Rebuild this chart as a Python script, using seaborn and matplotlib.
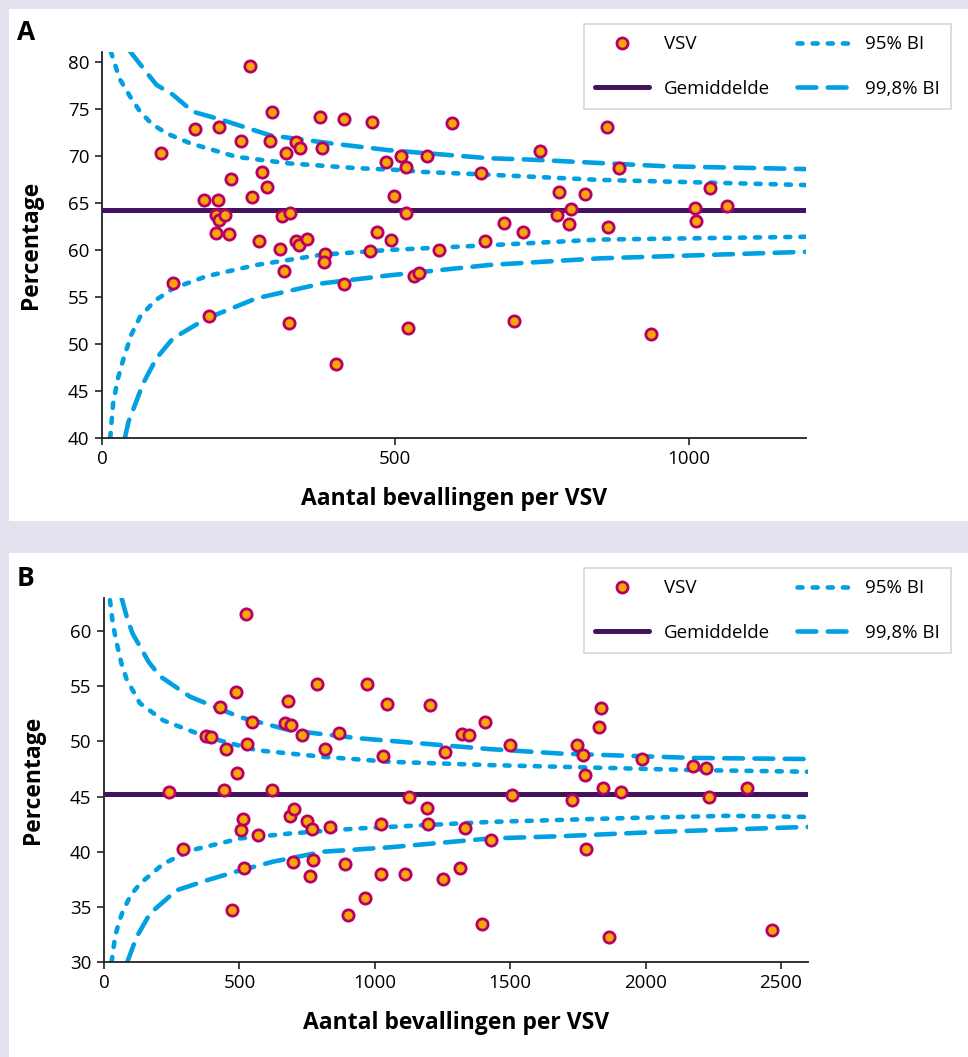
import matplotlib
matplotlib.use("Agg")
import matplotlib.pyplot as plt
from matplotlib.patches import Rectangle
from matplotlib.lines import Line2D
import seaborn as sns

# Panel A: aantal bevallingen en percentage per VSV
a_births = [100, 121, 158, 174, 183, 197, 200, 194, 200, 209, 195, 217, 220, 237, 253,
            256, 268, 273, 282, 286, 289, 303, 307, 314, 310, 318, 321, 331, 338, 330,
            335, 350, 371, 375, 380, 379, 399, 412, 412, 461, 457, 468, 484, 493, 497,
            510, 518, 518, 522, 532, 541, 554, 574, 596, 646, 653, 686, 702, 718, 746,
            775, 779, 796, 800, 824, 861, 863, 881, 935, 1011, 1012, 1037, 1065]
a_pct = [70.35, 56.5, 72.9, 65.3, 52.95, 65.3, 73.1, 63.7, 63.2, 63.7, 61.8, 61.7, 67.5, 71.6, 79.6,
         65.6, 60.9, 68.3, 66.7, 71.6, 74.7, 60.1, 63.65, 70.3, 57.8, 52.2, 63.9, 71.45, 70.85, 61.0,
         60.5, 61.2, 74.1, 70.8, 59.6, 58.75, 47.9, 73.9, 56.4, 73.65, 59.9, 61.9, 69.3, 61.1, 65.7,
         70.0, 68.8, 63.97, 51.7, 57.2, 57.5, 70.0, 59.97, 73.5, 68.2, 60.9, 62.9, 52.4, 61.9, 70.5,
         63.7, 66.2, 62.8, 64.4, 66.0, 73.05, 62.4, 68.75, 51.1, 64.5, 63.1, 66.6, 64.7]
a_mean = 64.3

a_ci95_upper = ([15, 30, 48, 65, 85, 110, 150, 229, 320, 433, 507, 546, 660, 847, 1200],
                [81.1, 78.2, 76.3, 74.7, 73.4, 72.4, 71.35, 69.9, 69.2, 68.7, 68.5, 68.3, 68.0, 67.45, 66.9])
a_ci95_lower = ([14, 19, 27, 36, 50, 65, 90, 121, 178, 263, 376, 490, 660, 847, 1200],
                [40.0, 43.7, 46.3, 48.3, 51.0, 52.9, 54.6, 55.9, 57.2, 58.4, 59.5, 60.0, 60.5, 61.1, 61.4])
a_ci998_upper = ([48, 82, 93, 121, 155, 206, 286, 388, 490, 660, 733, 960, 1200],
                 [81.1, 78.4, 77.55, 76.5, 74.7, 73.8, 72.2, 71.35, 70.6, 69.75, 69.6, 68.9, 68.6])
a_ci998_lower = ([39, 45, 53, 70, 93, 121, 178, 263, 376, 490, 660, 847, 1200],
                 [40.0, 41.7, 43.0, 45.8, 48.5, 50.6, 52.7, 54.85, 56.45, 57.3, 58.4, 59.1, 59.8])

# Panel B
b_births = [240, 291, 377, 395, 428, 444, 451, 472, 487, 490, 505, 513, 516, 526, 527,
            545, 569, 620, 668, 681, 689, 687, 700, 699, 731, 749, 767, 762, 772, 787,
            816, 835, 867, 890, 902, 965, 971, 1023, 1023, 1030, 1044, 1111, 1127, 1192, 1198,
            1203, 1251, 1259, 1315, 1322, 1349, 1334, 1395, 1408, 1430, 1499, 1508, 1727, 1747, 1768,
            1778, 1781, 1829, 1837, 1842, 1864, 1911, 1987, 2176, 2222, 2233, 2375, 2468]
b_pct = [45.4, 40.2, 50.5, 50.4, 53.1, 45.6, 49.3, 34.7, 54.5, 47.1, 42.0, 43.0, 38.5, 61.55, 49.8,
         51.8, 41.5, 45.6, 51.7, 53.7, 51.5, 43.2, 43.9, 39.05, 50.6, 42.75, 42.1, 37.8, 39.25, 55.2,
         49.3, 42.2, 50.75, 38.85, 34.3, 35.8, 55.2, 37.95, 42.5, 48.7, 53.4, 37.95, 45.0, 44.0, 42.55,
         53.3, 37.55, 49.05, 38.5, 50.7, 50.6, 42.15, 33.4, 51.75, 41.05, 49.7, 45.15, 44.7, 49.7, 48.75,
         46.95, 40.2, 51.3, 53.0, 45.8, 32.3, 45.4, 48.4, 47.8, 47.55, 44.95, 45.8, 32.9]
b_mean = 45.2

b_ci95_upper = ([22, 33, 47, 64, 84, 133, 219, 379, 564, 810, 1056, 1425, 1684, 2176, 2600],
                [62.8, 60.6, 58.9, 57.1, 55.6, 53.45, 51.9, 50.4, 49.2, 48.6, 48.15, 47.85, 47.7, 47.4, 47.25])
b_ci95_lower = ([28, 41, 55, 71, 100, 133, 219, 318, 502, 687, 933, 1179, 1425, 1930, 2300, 2600],
                [30.0, 32.3, 33.6, 34.7, 36.1, 37.1, 38.9, 40.1, 41.2, 41.65, 42.1, 42.4, 42.7, 43.05, 43.25, 43.15])
b_ci998_upper = ([65, 84, 105, 133, 165, 207, 318, 502, 687, 933, 1179, 1425, 1684, 2176, 2600],
                 [63.0, 61.3, 59.8, 58.6, 57.2, 55.9, 54.05, 52.2, 51.0, 50.3, 49.8, 49.3, 48.9, 48.5, 48.4])
b_ci998_lower = ([86, 121, 170, 268, 379, 502, 625, 810, 1056, 1425, 1684, 2053, 2600],
                 [30.0, 32.3, 34.4, 36.5, 37.4, 38.3, 39.1, 40.0, 40.4, 41.2, 41.4, 41.8, 42.25])

x_label = "Aantal bevallingen per VSV"
y_label = "Percentage"

PURPLE = "#42145f"
CYAN = "#00a0e3"
ORANGE = "#f8a600"
MAGENTA = "#b5006a"
LAVENDER = "#e6e1ee"

sns.set_style("ticks")
plt.rcParams['font.family'] = ['Open Sans', 'DejaVu Sans']
plt.rcParams['text.color'] = 'black'
plt.rcParams['axes.labelcolor'] = 'black'
plt.rcParams['xtick.color'] = 'black'
plt.rcParams['ytick.color'] = 'black'

W, H = 968, 1057
fig = plt.figure(figsize=(W / 100, H / 100), dpi=100, facecolor=LAVENDER)

# white panels on lavender background (behind the axes)
fig.patches.append(Rectangle((9 / W, 1 - 521 / H), 1, 512 / H, transform=fig.transFigure,
                             facecolor="white", edgecolor="none", zorder=-5))
fig.patches.append(Rectangle((9 / W, 0), 1, 1 - 553 / H, transform=fig.transFigure,
                             facecolor="white", edgecolor="none", zorder=-5))


def draw_panel(ax, births, pct, mean, ci95, ci998, xlim, ylim, xticks, yticks, legend_top):
    ax.set_facecolor("none")
    dot = (0, (1.1, 2.2))
    dash = (0, (4.1, 2.5))
    for curve in ci95:
        sns.lineplot(x=curve[0], y=curve[1], color=CYAN, linewidth=3.3, linestyle=dot,
                     dash_capstyle="round", errorbar=None, ax=ax, zorder=2)
    for curve in ci998:
        sns.lineplot(x=curve[0], y=curve[1], color=CYAN, linewidth=3.3, linestyle=dash,
                     dash_capstyle="round", errorbar=None, ax=ax, zorder=2)
    ax.axhline(mean, color=PURPLE, linewidth=3.6, zorder=3)
    sns.scatterplot(x=births, y=pct, color=ORANGE, edgecolor=MAGENTA, linewidth=2.0,
                    s=66, zorder=5, ax=ax, legend=False)

    ax.set_xlim(*xlim)
    ax.set_ylim(*ylim)
    ax.set_xticks(xticks)
    ax.set_yticks(yticks)
    ax.tick_params(labelsize=13.5, length=5, width=1.2, color="#222222", pad=4)
    for side in ["left", "bottom"]:
        ax.spines[side].set_linewidth(1.3)
        ax.spines[side].set_color("#222222")
    sns.despine(ax=ax)
    ax.set_xlabel(x_label, fontsize=16.5, fontweight="bold", labelpad=13)
    ax.set_ylabel(y_label, fontsize=16.5, fontweight="bold", labelpad=18)

    h_vsv = Line2D([], [], marker="o", linestyle="none", markerfacecolor=ORANGE,
                   markeredgecolor=MAGENTA, markeredgewidth=2.0, markersize=8)
    h_mean = Line2D([], [], color=PURPLE, linewidth=3.6)
    h_95 = Line2D([], [], color=CYAN, linewidth=3.3, linestyle=dot, dash_capstyle="round")
    h_998 = Line2D([], [], color=CYAN, linewidth=3.3, linestyle=dash, dash_capstyle="round")
    leg = ax.legend([h_vsv, h_mean, h_95, h_998], ["VSV", "Gemiddelde", "95% BI", "99,8% BI"],
                    ncol=2, loc="upper left", bbox_to_anchor=(584 / W, 1 - legend_top / H),
                    bbox_transform=fig.transFigure, borderaxespad=0, fontsize=13.5,
                    handlelength=2.85, handletextpad=0.8, columnspacing=1.45,
                    labelspacing=1.4, borderpad=0.6, fancybox=False, framealpha=1,
                    edgecolor="#d6d6d6")
    leg.get_frame().set_linewidth(1.2)


axA = fig.add_axes([102 / W, 1 - 438 / H, 704 / W, 386 / H])
draw_panel(axA, a_births, a_pct, a_mean, [a_ci95_upper, a_ci95_lower],
           [a_ci998_upper, a_ci998_lower], (0, 1200), (40, 81.05),
           [0, 500, 1000], list(range(40, 81, 5)), 24)

axB = fig.add_axes([104 / W, 1 - 962 / H, 704 / W, 364 / H])
draw_panel(axB, b_births, b_pct, b_mean, [b_ci95_upper, b_ci95_lower],
           [b_ci998_upper, b_ci998_lower], (0, 2600), (30, 63.0),
           [0, 500, 1000, 1500, 2000, 2500], list(range(30, 61, 5)), 568)

fig.text(17 / W, 1 - 33 / H, "A", fontsize=19, fontweight="bold", va="center", ha="left")
fig.text(17 / W, 1 - 578 / H, "B", fontsize=19, fontweight="bold", va="center", ha="left")

fig.savefig("out.png", dpi=100, facecolor=LAVENDER)
